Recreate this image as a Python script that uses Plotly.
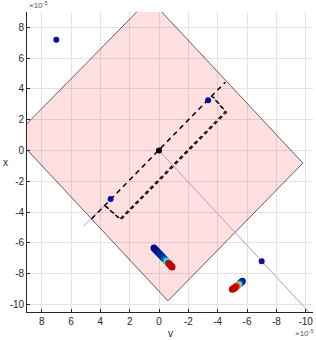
import plotly.graph_objects as go

# ---- data (units of 1e-5) ----
region_v = [9.85, 0.64, -9.81, -0.61, 9.85]
region_x = [0.92, 9.85, -0.82, -9.78, 0.92]

main_v = [4.60, -4.52]
main_x = [-4.45, 4.44]

rect1_v = [3.70, 2.67, -4.52, -3.62]
rect1_x = [-3.58, -4.46, 2.52, 3.52]
rect2_v = [3.62, 2.59, -4.60, -3.70]
rect2_x = [-3.62, -4.50, 2.48, 3.48]

ray1_v = [0.0, -11.0]
ray1_x = [0.0, -11.3]
ray2_v = [3.60, 5.14]
ray2_x = [-3.47, -4.90]

blue_v = [7.0, -7.0, 3.3, -3.35]
blue_x = [7.2, -7.2, -3.15, 3.27]

origin_v = [0.0]
origin_x = [0.0]

c1_v = [0.34, 0.25, 0.16, 0.07, -0.02, -0.11, -0.20, -0.29, -0.38, -0.47, -0.56, -0.65, -0.74, -0.83, -0.89]
c1_x = [-6.34, -6.43, -6.52, -6.61, -6.70, -6.79, -6.88, -6.97, -7.06, -7.15, -7.24, -7.33, -7.42, -7.51, -7.58]
c1_c = [0.0, 0.03, 0.06, 0.08, 0.10, 0.12, 0.14, 0.17, 0.22, 0.30, 0.40, 0.84, 0.87, 0.89, 0.90]

c2_v = [-5.68, -5.62, -5.55, -5.48, -5.40, -5.32, -5.24, -5.16, -5.08, -5.00]
c2_x = [-8.50, -8.56, -8.62, -8.68, -8.74, -8.80, -8.86, -8.92, -8.97, -9.02]
c2_c = [0.05, 0.10, 0.15, 0.30, 0.45, 0.70, 0.84, 0.87, 0.89, 0.90]

tick_vals = [8, 6, 4, 2, 0, -2, -4, -6, -8, -10]
tick_text = ["8", "6", "4", "2", "0", "-2", "-4", "-6", "-8", "-10"]

FONT = "Liberation Sans, Arial, sans-serif"
AX = "#262626"

fig = go.Figure()
fig.add_trace(go.Scatter(x=region_v, y=region_x, mode="lines", fill="toself",
                         fillcolor="rgba(255,0,0,0.12)",
                         line=dict(color="#3a3a3a", width=0.8), hoverinfo="skip"))
fig.add_trace(go.Scatter(x=ray1_v, y=ray1_x, mode="lines",
                         line=dict(color="#c690d0", width=1)))
fig.add_trace(go.Scatter(x=ray2_v, y=ray2_x, mode="lines",
                         line=dict(color="#c690d0", width=1)))
fig.add_trace(go.Scatter(x=main_v, y=main_x, mode="lines",
                         line=dict(color="black", width=1.5, dash="5px,4px")))
fig.add_trace(go.Scatter(x=rect1_v, y=rect1_x, mode="lines",
                         line=dict(color="black", width=1.2, dash="4px,3px")))
fig.add_trace(go.Scatter(x=rect2_v, y=rect2_x, mode="lines",
                         line=dict(color="black", width=1.2, dash="4px,3px")))
fig.add_trace(go.Scatter(x=blue_v, y=blue_x, mode="markers",
                         marker=dict(color="#0a0ab4", size=6)))
fig.add_trace(go.Scatter(x=origin_v, y=origin_x, mode="markers",
                         marker=dict(color="black", size=6)))
for vv, xx, cc in [(c1_v, c1_x, c1_c), (c2_v, c2_x, c2_c)]:
    fig.add_trace(go.Scatter(x=vv, y=xx, mode="markers",
                             marker=dict(color=cc, colorscale="Jet", cmin=0, cmax=1,
                                         size=7, line=dict(width=0))))

axis_common = dict(tickvals=tick_vals, ticktext=tick_text, ticks="inside", ticklen=3,
                   tickcolor=AX, tickwidth=0.8, showline=True, linecolor=AX, linewidth=0.8,
                   showgrid=True, gridcolor="#e3e3e3", gridwidth=1, zeroline=False,
                   tickfont=dict(family=FONT, size=10, color=AX), mirror=False)

fig.update_layout(
    width=316, height=340,
    margin=dict(l=27, r=3, t=12, b=28, pad=0, autoexpand=False),
    paper_bgcolor="white", plot_bgcolor="white",
    showlegend=False,
    xaxis=dict(range=[9, -10.5], **axis_common),
    yaxis=dict(range=[-10.5, 9], **axis_common),
    annotations=[
        dict(text="v", x=0.5, y=0, xref="paper", yref="paper", yshift=-21,
             xanchor="center", yanchor="middle", showarrow=False,
             font=dict(family=FONT, size=10, color=AX)),
        dict(text="x", x=0, y=0.5, xref="paper", yref="paper", xshift=-22,
             xanchor="center", yanchor="middle", showarrow=False,
             font=dict(family=FONT, size=10, color=AX)),
        dict(text="×10<sup>-5</sup>", x=0, y=1, xref="paper", yref="paper",
             xanchor="left", yanchor="bottom", showarrow=False,
             font=dict(family=FONT, size=8, color="#555555")),
        dict(text="×10<sup>-5</sup>", x=1, y=0, xref="paper", yref="paper",
             xanchor="right", yanchor="top", yshift=-14, xshift=3, showarrow=False,
             font=dict(family=FONT, size=8, color="#555555")),
    ],
)

fig.write_html("out.html", config={"displayModeBar": False},
               post_script="document.body.style.margin='0px';document.body.style.padding='0px';")
